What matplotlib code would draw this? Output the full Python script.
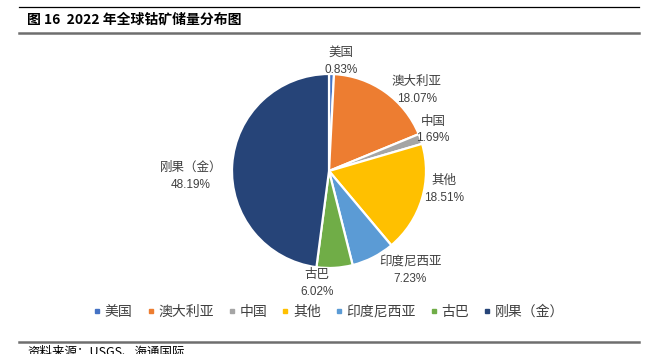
import matplotlib
matplotlib.use("Agg")
import matplotlib.pyplot as plt
from matplotlib.lines import Line2D

plt.rcParams['font.family'] = ['Noto Sans CJK SC', 'DejaVu Sans']

categories = ['美国', '澳大利亚', '中国', '其他', '印度尼西亚', '古巴', '刚果（金）']
values = [0.83, 18.07, 1.69, 18.51, 7.23, 6.02, 48.19]
pct_labels = ['0.83%', '18.07%', '1.69%', '18.51%', '7.23%', '6.02%', '48.19%']
colors = ['#4472C4', '#ED7D31', '#A5A5A5', '#FFC000', '#5B9BD5', '#70AD47', '#264478']
title = '图 16  2022 年全球钴矿储量分布图'
source = '资料来源：USGS、海通国际'

W, H = 648, 354
fig = plt.figure(figsize=(W / 100, H / 100), dpi=100)

cx, cy, r = 329, 171, 97
ax = fig.add_axes([(cx - r) / W, (H - cy - r) / H, 2 * r / W, 2 * r / H])

wedges, _ = ax.pie(values, colors=colors, startangle=90, counterclock=False,
                   radius=1, wedgeprops=dict(edgecolor='white', linewidth=1.6))
ax.set_xlim(-1, 1)
ax.set_ylim(-1, 1)
ax.axis('off')

# label centre positions (data units, radius = 1)
label_pos = [(0.124, 1.134), (0.907, 0.835), (1.072, 0.423), (1.186, -0.186),
             (0.835, -1.021), (-0.124, -1.155), (-1.423, -0.052)]
half = 8.5 / r
for name, pct, (lx, ly) in zip(categories, pct_labels, label_pos):
    ax.text(lx, ly + half, name, ha='center', va='center', fontsize=9,
            color='#404040', clip_on=False)
    ax.text(lx, ly - half, pct, ha='center', va='center', fontsize=8.5,
            color='#404040', family=['Liberation Sans', 'DejaVu Sans'], clip_on=False)

# legend
handles = [Line2D([0], [0], marker='s', linestyle='none', markersize=3.5,
                  markerfacecolor=c, markeredgecolor=c) for c in colors]
fig.legend(handles, categories, loc='center', bbox_to_anchor=(329 / W, 1 - 312 / H),
           ncol=7, frameon=False, fontsize=10, handlelength=0.5, handletextpad=0.3,
           columnspacing=1.05, labelcolor='#404040')

# title and rules
fig.add_artist(Line2D([19 / W, 639 / W], [1 - 7 / H, 1 - 7 / H], color='black', lw=0.9))
fig.add_artist(Line2D([19 / W, 639 / W], [1 - 33 / H, 1 - 33 / H], color='#6e6e6e', lw=1.8))
fig.add_artist(Line2D([19 / W, 639 / W], [1 - 342 / H, 1 - 342 / H], color='#6e6e6e', lw=1.8))
fig.text(27 / W, 1 - 20 / H, title, ha='left', va='center', fontsize=10,
         fontweight='bold', color='black')
fig.text(27 / W, 1 - 352 / H, source, ha='left', va='center', fontsize=9, color='black')

fig.savefig('out.png', dpi=100)
